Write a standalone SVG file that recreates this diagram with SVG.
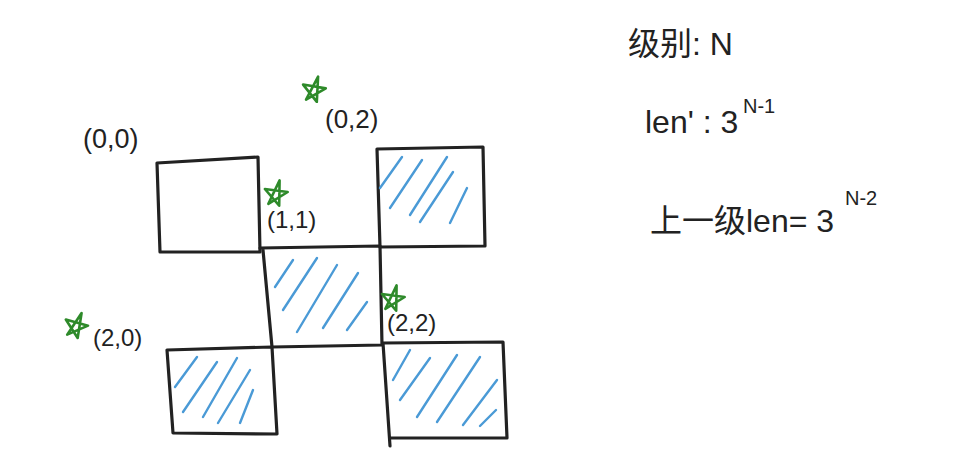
<svg xmlns="http://www.w3.org/2000/svg" width="953" height="460" viewBox="0 0 953 460">
<style>
.box{fill:none;stroke:#222;stroke-width:3.2;stroke-linecap:round;stroke-linejoin:round}
.hatch{fill:none;stroke:#4a9ad6;stroke-width:2.4;stroke-linecap:round}
.star{fill:none;stroke:#2e8a2a;stroke-width:2.6;stroke-linejoin:round;stroke-linecap:round}
.lbl{font-family:"Liberation Sans","Noto Sans CJK SC",sans-serif;fill:#222}
</style>
<defs>
<path id="starShape" d="M1,-15 L5,10 L-12,-4 L11,-5 L-6,10 Z"/>
</defs>
<rect width="953" height="460" fill="#fff"/>
<g id="cell-0-0">
<path class="box" d="M157,163 L258,157 L260,252 L160,252 Z"/>
<text class="lbl" x="83" y="148" font-size="27">(0,0)</text>
</g>
<g id="cell-0-2">
<path class="box" d="M377,149 L483,147 L485,246 L380,247 L377,149"/>
<path class="hatch" d="M380,188 L402,157 M390,208 L422,160 M410,215 L447,157 M420,222 L453,172 M450,223 L467,188"/>
<use class="star" href="#starShape" transform="translate(314 91) rotate(12)"/>
<text class="lbl" x="325" y="128" font-size="26">(0,2)</text>
</g>
<g id="cell-1-1">
<path class="box" d="M260,248 L380,246 L382,345 L272,347 L263,250"/>
<path class="hatch" d="M275,287 L293,260 M283,310 L317,258 M297,332 L337,265 M323,328 L358,273 M347,330 L367,302"/>
<use class="star" href="#starShape" transform="translate(276 195) rotate(10)"/>
<text class="lbl" x="267" y="228" font-size="24">(1,1)</text>
</g>
<g id="cell-2-0">
<path class="box" d="M167,350 L272,347 L277,434 L173,433 Z"/>
<path class="hatch" d="M175,387 L197,357 M183,412 L217,362 M203,417 L237,358 M218,423 L250,370 M240,423 L253,390"/>
<use class="star" href="#starShape" transform="translate(76 327) rotate(18)"/>
<text class="lbl" x="93" y="346" font-size="24">(2,0)</text>
</g>
<g id="cell-2-2">
<path class="box" d="M383,343 L503,342 L507,438 L390,438 M383,343 L390,446"/>
<path class="hatch" d="M393,380 L410,350 M400,400 L430,358 M417,417 L457,355 M437,422 L480,357 M463,425 L497,380 M480,426 L496,410"/>
<use class="star" href="#starShape" transform="translate(393 300) rotate(10)"/>
<text class="lbl" x="387" y="331" font-size="24">(2,2)</text>
</g>
<g id="notes">
<text class="lbl" x="628" y="55" font-size="32">级别: N</text>
<text class="lbl" x="645" y="133" font-size="32">len' : 3</text>
<text class="lbl" x="743" y="113" font-size="20">N-1</text>
<text class="lbl" x="650" y="232" font-size="32">上一级len= 3</text>
<text class="lbl" x="845" y="205" font-size="20">N-2</text>
</g>
</svg>
